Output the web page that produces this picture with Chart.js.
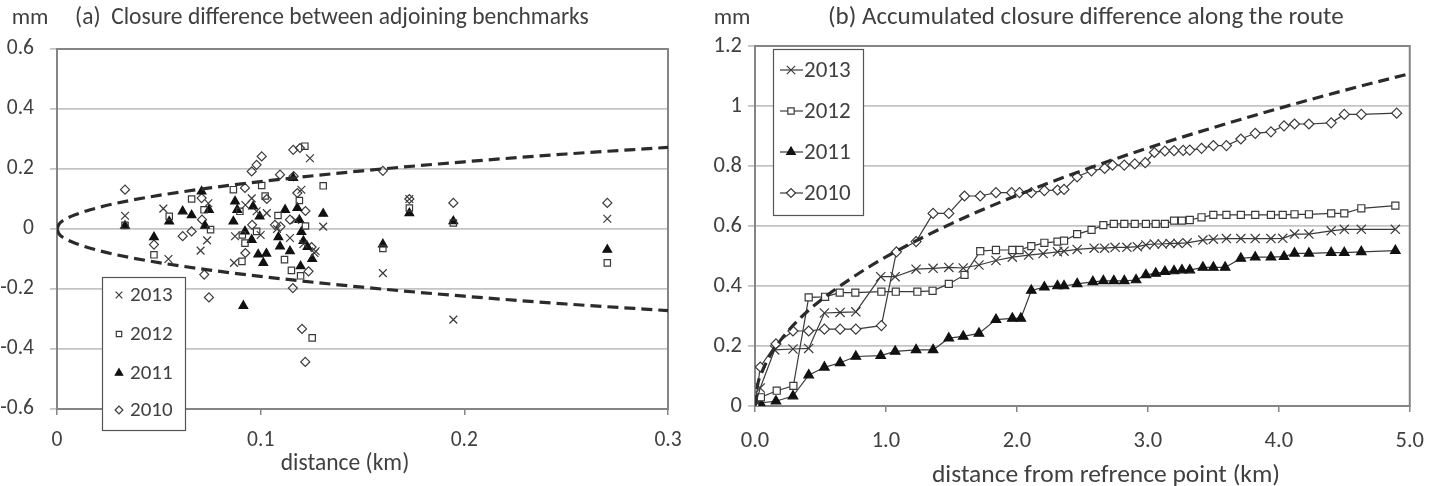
<!DOCTYPE html>
<html>
<head>
<meta charset="utf-8">
<script src="https://cdn.jsdelivr.net/npm/chart.js@4.4.1/dist/chart.umd.min.js"></script>
<style>
  html, body { margin: 0; padding: 0; background: #fff; }
  #wrap { position: relative; width: 1440px; height: 486px; overflow: hidden; }
  .panel { position: absolute; top: 0; height: 486px; }
  #panelA { left: 0; width: 700px; }
  #panelB { left: 700px; width: 740px; }
</style>
</head>
<body>
<div id="wrap">
  <div class="panel" id="panelA"><canvas id="chartA" width="700" height="486"></canvas></div>
  <div class="panel" id="panelB"><canvas id="chartB" width="740" height="486"></canvas></div>
</div>
<script>
// ---- textos
const titleA = '(a)  Closure difference between adjoining benchmarks';
const titleB = '(b) Accumulated closure difference along the route';
const unitLabel = 'mm';
const xTitleA = 'distance (km)';
const xTitleB = 'distance from refrence point (km)';

// ---- ticks
const xTicksA = [0, 0.1, 0.2, 0.3];
const xTickLabelsA = ['0', '0.1', '0.2', '0.3'];
const yTicksA = [-0.6, -0.4, -0.2, 0, 0.2, 0.4, 0.6];
const yTickLabelsA = ['-0.6', '-0.4', '-0.2', '0', '0.2', '0.4', '0.6'];
const xTicksB = [0, 1, 2, 3, 4, 5];
const xTickLabelsB = ['0.0', '1.0', '2.0', '3.0', '4.0', '5.0'];
const yTicksB = [0, 0.2, 0.4, 0.6, 0.8, 1, 1.2];
const yTickLabelsB = ['0', '0.2', '0.4', '0.6', '0.8', '1', '1.2'];

// ---- (a) diferença entre marcos adjacentes
const a2013x = [0.0334, 0.0522, 0.0547, 0.0705, 0.0737, 0.0743, 0.0869, 0.0874, 0.0925, 0.0956, 0.098, 0.100, 0.103, 0.108, 0.1144, 0.117, 0.120, 0.121, 0.1242, 0.1264, 0.127, 0.1307, 0.160, 0.173, 0.1946, 0.2702];
const a2013y = [0.044, 0.068, -0.1, -0.072, -0.038, 0.086, -0.113, -0.024, 0.08, 0.102, 0.059, -0.02, 0.053, 0.0, -0.03, 0.03, 0.131, -0.05, 0.236, -0.08, -0.074, 0.008, -0.147, 0.1, -0.302, 0.034];
const a2012x = [0.0334, 0.0476, 0.0551, 0.0661, 0.0722, 0.0754, 0.0866, 0.0898, 0.0908, 0.0910, 0.0923, 0.098, 0.1005, 0.1022, 0.1085, 0.1117, 0.1151, 0.119, 0.1196, 0.1217, 0.122, 0.1253, 0.1307, 0.160, 0.173, 0.1946, 0.2702];
const a2012y = [0.012, -0.086, 0.042, 0.1, 0.064, -0.002, 0.131, 0.059, -0.108, -0.02, -0.047, -0.008, 0.145, 0.11, 0.045, -0.102, -0.138, 0.095, -0.156, 0.276, 0.01, -0.363, 0.144, -0.065, 0.07, 0.02, -0.113];
const a2011x = [0.0334, 0.0476, 0.0551, 0.0617, 0.0661, 0.071, 0.0727, 0.0746, 0.0866, 0.0874, 0.0885, 0.0915, 0.0923, 0.0956, 0.0963, 0.0988, 0.0995, 0.1013, 0.1028, 0.1087, 0.1095, 0.112, 0.1144, 0.116, 0.118, 0.119, 0.1196, 0.120, 0.121, 0.123, 0.1253, 0.1307, 0.160, 0.173, 0.1946, 0.2702];
const a2011y = [0.011, -0.027, 0.025, 0.059, 0.046, 0.125, 0.011, 0.064, 0.025, 0.092, 0.064, -0.256, -0.008, -0.036, 0.075, -0.085, 0.042, -0.113, -0.082, -0.027, -0.058, 0.064, -0.074, 0.170, 0.07, 0.03, -0.124, -0.01, -0.04, -0.06, -0.1, 0.051, -0.051, 0.053, 0.026, -0.069];
const a2010x = [0.0334, 0.0476, 0.0617, 0.0661, 0.071, 0.0712, 0.0723, 0.0746, 0.0923, 0.0925, 0.0956, 0.0958, 0.098, 0.1005, 0.103, 0.107, 0.1095, 0.1097, 0.1144, 0.116, 0.1162, 0.1158, 0.118, 0.1193, 0.1203, 0.1219, 0.122, 0.1235, 0.125, 0.160, 0.173, 0.1946, 0.2702];
const a2010y = [0.131, -0.052, -0.024, -0.008, 0.103, 0.031, -0.152, -0.228, 0.137, -0.08, 0.192, 0.014, 0.214, 0.242, 0.1, 0.014, 0.181, 0.008, 0.031, 0.264, 0.176, -0.197, 0.12, 0.27, -0.333, -0.443, 0.06, -0.141, -0.06, 0.194, 0.1, 0.087, 0.087];
// limite tracejado
const limAx = [0, 0.001, 0.004, 0.01, 0.02, 0.035, 0.05, 0.075, 0.1, 0.15, 0.2, 0.25, 0.3];
const limAy = [0, 0.016, 0.032, 0.05, 0.071, 0.094, 0.112, 0.137, 0.158, 0.194, 0.224, 0.25, 0.272];

// ---- (b) diferença acumulada ao longo da rota
const b2013x = [0, 0.04, 0.15, 0.29, 0.41, 0.53, 0.65, 0.77, 0.96, 1.07, 1.23, 1.36, 1.48, 1.59, 1.71, 1.84, 1.965, 2.09, 2.2, 2.31, 2.36, 2.46, 2.59, 2.67, 2.75, 2.84, 2.92, 2.985, 3.05, 3.11, 3.17, 3.23, 3.3, 3.42, 3.5, 3.6, 3.71, 3.82, 3.94, 4.03, 4.12, 4.23, 4.4, 4.5, 4.63, 4.89];
const b2013y = [0, 0.06, 0.187, 0.19, 0.192, 0.31, 0.312, 0.314, 0.431, 0.431, 0.456, 0.459, 0.462, 0.46, 0.47, 0.485, 0.496, 0.503, 0.508, 0.514, 0.516, 0.522, 0.526, 0.526, 0.529, 0.529, 0.531, 0.537, 0.54, 0.54, 0.542, 0.542, 0.544, 0.553, 0.556, 0.558, 0.558, 0.558, 0.558, 0.559, 0.573, 0.573, 0.584, 0.589, 0.589, 0.589];
const b2012x = [0, 0.045, 0.166, 0.293, 0.41, 0.535, 0.647, 0.766, 0.965, 1.075, 1.24, 1.356, 1.48, 1.6, 1.72, 1.84, 1.965, 2.02, 2.11, 2.21, 2.31, 2.36, 2.46, 2.57, 2.66, 2.74, 2.82, 2.9, 2.985, 3.06, 3.13, 3.2, 3.26, 3.32, 3.41, 3.5, 3.6, 3.71, 3.82, 3.94, 4.03, 4.12, 4.23, 4.4, 4.5, 4.63, 4.89];
const b2012y = [0, 0.029, 0.051, 0.067, 0.362, 0.364, 0.378, 0.378, 0.381, 0.381, 0.381, 0.384, 0.407, 0.437, 0.516, 0.52, 0.52, 0.52, 0.533, 0.544, 0.548, 0.551, 0.573, 0.587, 0.603, 0.607, 0.607, 0.607, 0.607, 0.607, 0.607, 0.618, 0.618, 0.62, 0.629, 0.637, 0.637, 0.637, 0.637, 0.637, 0.637, 0.639, 0.639, 0.642, 0.642, 0.659, 0.668];
const b2011x = [0, 0.04, 0.16, 0.29, 0.41, 0.53, 0.65, 0.77, 0.96, 1.07, 1.23, 1.36, 1.48, 1.59, 1.71, 1.84, 1.965, 2.03, 2.11, 2.21, 2.31, 2.36, 2.46, 2.58, 2.66, 2.74, 2.82, 2.91, 2.985, 3.06, 3.13, 3.2, 3.26, 3.32, 3.42, 3.5, 3.59, 3.71, 3.82, 3.94, 4.04, 4.12, 4.23, 4.4, 4.5, 4.63, 4.89];
const b2011y = [0, 0.01, 0.016, 0.033, 0.103, 0.129, 0.144, 0.165, 0.168, 0.182, 0.187, 0.187, 0.226, 0.232, 0.242, 0.288, 0.292, 0.292, 0.385, 0.396, 0.4, 0.4, 0.407, 0.414, 0.417, 0.417, 0.417, 0.42, 0.437, 0.442, 0.448, 0.45, 0.453, 0.453, 0.462, 0.462, 0.462, 0.492, 0.496, 0.496, 0.498, 0.509, 0.509, 0.511, 0.511, 0.514, 0.518];
const b2010x = [0, 0.04, 0.16, 0.29, 0.41, 0.53, 0.65, 0.77, 0.965, 1.08, 1.23, 1.36, 1.48, 1.6, 1.72, 1.84, 1.96, 2.02, 2.11, 2.21, 2.31, 2.36, 2.46, 2.57, 2.67, 2.73, 2.82, 2.9, 2.98, 3.05, 3.13, 3.2, 3.27, 3.32, 3.41, 3.5, 3.6, 3.71, 3.82, 3.94, 4.04, 4.12, 4.23, 4.4, 4.5, 4.63, 4.9];
const b2010y = [0, 0.13, 0.207, 0.25, 0.25, 0.256, 0.256, 0.256, 0.268, 0.514, 0.548, 0.642, 0.642, 0.70, 0.70, 0.711, 0.711, 0.711, 0.711, 0.718, 0.72, 0.722, 0.764, 0.784, 0.792, 0.803, 0.803, 0.807, 0.811, 0.845, 0.85, 0.851, 0.852, 0.853, 0.859, 0.868, 0.868, 0.89, 0.909, 0.914, 0.934, 0.94, 0.94, 0.944, 0.972, 0.972, 0.976];
const limBx = [0, 0.02, 0.05, 0.1, 0.2, 0.35, 0.5, 0.75, 1, 1.5, 2, 2.5, 3, 3.5, 4, 4.5, 5];
const limBy = [0, 0.07, 0.11, 0.157, 0.222, 0.295, 0.352, 0.43, 0.497, 0.608, 0.702, 0.785, 0.86, 0.928, 0.992, 1.052, 1.108];

// ---- helpers
const FONT = 'Carlito, Lato, "Liberation Sans", sans-serif';
const TXT = '#404040';
const INK = '#3a3a3a';

function pares(xs, ys, sinal) {
    const s = sinal || 1;
    return xs.map((x, i) => ({ x: x, y: ys[i] * s }));
}

const estilos = {
    '2013': { pointStyle: 'crossRot', fill: INK },
    '2012': { pointStyle: 'rect', fill: '#fff' },
    '2011': { pointStyle: 'triangle', fill: '#111' },
    '2010': { pointStyle: 'rectRot', fill: '#fff' }
};

function serie(nome, pts, raio, comLinha) {
    const e = estilos[nome];
    return {
        label: nome,
        data: pts,
        showLine: comLinha,
        borderColor: INK,
        borderWidth: 1.2,
        pointStyle: e.pointStyle,
        pointRadius: nome === '2013' ? raio + 1.5 : (nome === '2011' ? raio + 0.5 : raio),
        pointBorderColor: nome === '2011' ? '#111' : INK,
        pointBackgroundColor: comLinha ? e.fill : (nome === '2011' ? '#111' : 'rgba(0,0,0,0)'),
        pointBorderWidth: 1.2,
        order: 1
    };
}

function tracejado(pts) {
    return {
        label: '',
        data: pts,
        showLine: true,
        borderColor: '#2b2b2b',
        borderWidth: 3.2,
        borderDash: [11, 6],
        pointRadius: 0,
        cubicInterpolationMode: 'monotone',
        order: 0
    };
}

// moldura, títulos e legenda desenhados à mão
const papelPlugin = {
    id: 'papel',
    beforeDatasetsDraw(chart, args, opts) {
        const { ctx, chartArea: a } = chart;
        ctx.save();
        ctx.strokeStyle = '#858585';
        ctx.lineWidth = 2;
        ctx.strokeRect(a.left, a.top, a.right - a.left, a.bottom - a.top);
        ctx.restore();
    },
    afterDatasetsDraw(chart, args, opts) {
        const { ctx } = chart;
        const lg = opts.legend;
        ctx.save();
        ctx.fillStyle = '#fff';
        ctx.fillRect(lg.x, lg.y, lg.w, lg.h);
        ctx.strokeStyle = '#555';
        ctx.lineWidth = 1.2;
        ctx.strokeRect(lg.x + 0.5, lg.y + 0.5, lg.w, lg.h);
        ctx.font = lg.fontSize + 'px ' + FONT;
        ctx.textBaseline = 'middle';
        ctx.textAlign = 'left';
        const series = chart.data.datasets.filter(d => d.label);
        series.forEach((ds, i) => {
            const y = lg.rows[i];
            if (lg.line) {
                ctx.strokeStyle = INK;
                ctx.lineWidth = 1.2;
                ctx.beginPath();
                ctx.moveTo(lg.line[0], y);
                ctx.lineTo(lg.line[1], y);
                ctx.stroke();
            }
            ctx.strokeStyle = ds.pointBorderColor;
            ctx.fillStyle = ds.pointBackgroundColor;
            ctx.lineWidth = ds.pointBorderWidth;
            Chart.helpers.drawPoint(ctx, {
                pointStyle: ds.pointStyle,
                radius: ds.pointRadius * lg.markerScale,
                rotation: 0,
                borderWidth: ds.pointBorderWidth
            }, lg.markerX, y);
            ctx.fillStyle = TXT;
            ctx.fillText(ds.label, lg.textX, y + 1);
        });
        ctx.restore();
    },
    afterDraw(chart, args, opts) {
        const { ctx } = chart;
        ctx.save();
        ctx.fillStyle = TXT;
        ctx.textBaseline = 'middle';
        ctx.font = opts.unit.size + 'px ' + FONT;
        ctx.textAlign = 'center';
        ctx.fillText(unitLabel, opts.unit.x, opts.unit.y);
        ctx.font = opts.xTitle.size + 'px ' + FONT;
        ctx.fillText(opts.xTitle.text, opts.xTitle.x, opts.xTitle.y);
        ctx.font = opts.title.size + 'px ' + FONT;
        ctx.textAlign = 'left';
        ctx.fillText(opts.title.text, opts.title.x, opts.title.y);
        ctx.restore();
    }
};

function eixos(cfg) {
    return {
        x: {
            type: 'linear', min: cfg.xTicks[0], max: cfg.xTicks[cfg.xTicks.length - 1],
            afterBuildTicks: s => { s.ticks = cfg.xTicks.map(v => ({ value: v })); },
            afterFit: s => { s.height = cfg.xHeight; },
            ticks: {
                callback: (v, i) => cfg.xLabels[i],
                font: { family: FONT, size: cfg.tickSize }, color: TXT,
                padding: cfg.xPad, maxRotation: 0, autoSkip: false
            },
            grid: { drawOnChartArea: false, drawTicks: true, tickLength: 6, color: '#858585', lineWidth: 1.5 },
            border: { display: true, color: '#858585', width: 2 }
        },
        y: {
            type: 'linear', min: cfg.yTicks[0], max: cfg.yTicks[cfg.yTicks.length - 1],
            afterBuildTicks: s => { s.ticks = cfg.yTicks.map(v => ({ value: v })); },
            afterFit: s => { s.width = cfg.yWidth; },
            ticks: {
                callback: (v, i) => cfg.yLabels[i],
                font: { family: FONT, size: cfg.tickSize }, color: TXT,
                padding: cfg.yPad
            },
            grid: { color: '#c4c4c4', lineWidth: 1.8, drawTicks: true, tickLength: 7 },
            border: { display: true, color: '#9a9a9a', width: 1.5 }
        }
    };
}

document.addEventListener('DOMContentLoaded', function() {
    Chart.defaults.font.family = FONT;

    // ---- painel (a)
    new Chart(document.getElementById('chartA').getContext('2d'), {
        type: 'scatter',
        data: {
            datasets: [
                tracejado(pares(limAx, limAy, 1)),
                tracejado(pares(limAx, limAy, -1)),
                serie('2013', pares(a2013x, a2013y), 4, false),
                serie('2012', pares(a2012x, a2012y), 4.5, false),
                serie('2011', pares(a2011x, a2011y), 4.5, false),
                serie('2010', pares(a2010x, a2010y), 4.5, false)
            ]
        },
        options: {
            responsive: false,
            animation: false,
            layout: { padding: { left: 0, right: 32, top: 49, bottom: 0 } },
            plugins: {
                legend: { display: false },
                tooltip: { enabled: false },
                papel: {
                    unit: { x: 30, y: 18, size: 23 },
                    title: { text: titleA, x: 75, y: 18, size: 23.5 },
                    xTitle: { text: xTitleA, x: 345, y: 464, size: 23.5 },
                    legend: { x: 102, y: 277, w: 83, h: 153, rows: [295, 334, 373, 410],
                              markerX: 119, textX: 130, fontSize: 21, line: null, markerScale: 0.85 }
                }
            },
            scales: eixos({
                xTicks: xTicksA, xLabels: xTickLabelsA, yTicks: yTicksA, yLabels: yTickLabelsA,
                xHeight: 77, yWidth: 57, tickSize: 21.5, xPad: 13, yPad: 16
            })
        },
        plugins: [papelPlugin]
    });

    // ---- painel (b)
    new Chart(document.getElementById('chartB').getContext('2d'), {
        type: 'scatter',
        data: {
            datasets: [
                tracejado(pares(limBx, limBy, 1)),
                serie('2013', pares(b2013x, b2013y), 5, true),
                serie('2012', pares(b2012x, b2012y), 5, true),
                serie('2011', pares(b2011x, b2011y), 5, true),
                serie('2010', pares(b2010x, b2010y), 5, true)
            ]
        },
        options: {
            responsive: false,
            animation: false,
            layout: { padding: { left: 0, right: 15, top: 46, bottom: 0 } },
            plugins: {
                legend: { display: false },
                tooltip: { enabled: false },
                papel: {
                    unit: { x: 32, y: 18, size: 23 },
                    title: { text: titleB, x: 128, y: 18, size: 25 },
                    xTitle: { text: xTitleB, x: 406, y: 476, size: 25.5 },
                    legend: { x: 73, y: 49, w: 90, h: 166, rows: [70, 111, 152, 193],
                              markerX: 91, textX: 104, fontSize: 23, line: [80, 103], markerScale: 0.9 }
                }
            },
            scales: eixos({
                xTicks: xTicksB, xLabels: xTickLabelsB, yTicks: yTicksB, yLabels: yTickLabelsB,
                xHeight: 80, yWidth: 55, tickSize: 22.5, xPad: 16, yPad: 6
            })
        },
        plugins: [papelPlugin]
    });
});
</script>
</body>
</html>
